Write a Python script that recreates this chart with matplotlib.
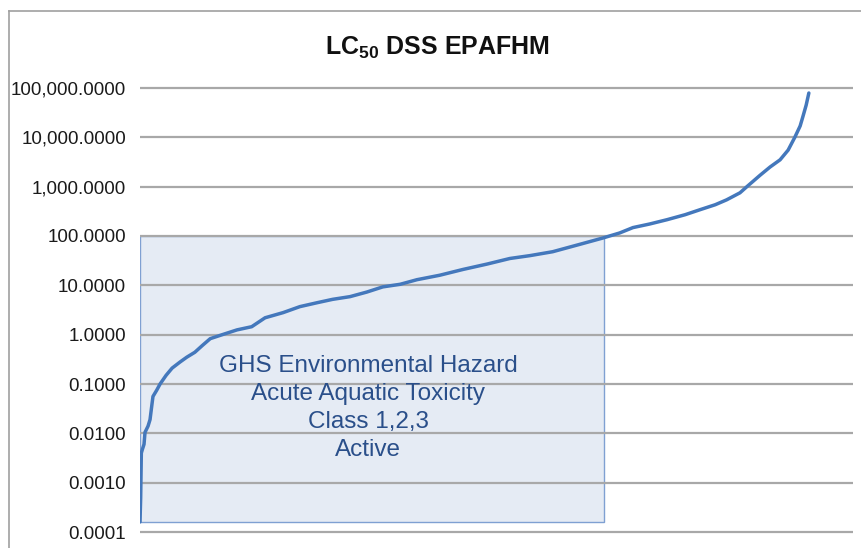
import matplotlib
matplotlib.use("Agg")
import matplotlib.pyplot as plt
from matplotlib.patches import Rectangle
from matplotlib.lines import Line2D
from matplotlib.ticker import FixedLocator, FuncFormatter, NullLocator

plt.rcParams['font.family'] = ['Liberation Sans', 'DejaVu Sans']
plt.rcParams['mathtext.fontset'] = 'custom'
plt.rcParams['mathtext.rm'] = 'Liberation Sans'
plt.rcParams['mathtext.bf'] = 'Liberation Sans:bold'

# Percent rank of each chemical (sorted) and its LC50 value
rank = [0.0, 0.1, 0.2, 0.35, 0.6, 0.75, 1.2, 1.5, 1.8, 1.94, 2.5, 3.0, 3.9, 4.8,
        6.0, 7.0, 8.2, 9.3, 10.5, 12.3, 14.5, 16.7, 18.7, 21.4, 23.9, 26.5,
        28.8, 31.4, 33.9, 36.3, 38.9, 41.4, 44.8, 48.3, 51.9, 55.3, 58.3,
        61.7, 65.8, 69.2, 71.7, 73.7, 76.2, 78.8, 81.5, 83.7, 86.0, 87.7,
        89.7, 90.7, 92.7, 94.2, 95.7, 96.9, 97.9, 98.7, 99.1, 99.6, 100.0]
lc50 = [0.00016, 0.0005, 0.004, 0.0047, 0.006, 0.0105, 0.014, 0.019, 0.04,
        0.056, 0.075, 0.1, 0.15, 0.21, 0.28, 0.35, 0.44, 0.6, 0.83, 1.0,
        1.25, 1.45, 2.2, 2.8, 3.7, 4.45, 5.2, 5.9, 7.3, 9.3, 10.5, 13, 16,
        21, 27, 35, 40, 48, 68, 91, 115, 148, 175, 214, 270, 340, 430, 540,
        750, 990, 1700, 2500, 3500, 5500, 10000, 17000, 26000, 45000, 79000]

# Hazard band: chemicals with LC50 up to 100 mg/L
band_rank_end = 69.4
band_low = 0.00016
band_high = 100.0

tick_values = [1e-4, 1e-3, 1e-2, 1e-1, 1, 10, 100, 1000, 10000, 100000]

W, H = 861, 548
fig = plt.figure(figsize=(W / 100, H / 100), dpi=100)

# axes box in pixels (small padding beyond the outer gridlines)
px_left, px_right = 140, 853
px_top, px_bottom = 85.5, 534.5
ax = fig.add_axes([px_left / W, 1 - px_bottom / H,
                   (px_right - px_left) / W, (px_bottom - px_top) / H])

ax.set_yscale('log')
ax.set_ylim(10 ** -4.05, 10 ** 5.05)
ax.set_xlim(0, 106.6)

ax.add_patch(Rectangle((0, band_low), band_rank_end, band_high - band_low,
                       facecolor='#e5ebf4', edgecolor='#7fa0d2', lw=1.0, zorder=1))

ax.plot(rank, lc50, color='#4478bc', lw=2.5, solid_joinstyle='round',
        solid_capstyle='round', zorder=3)

ax.yaxis.set_major_locator(FixedLocator(tick_values))
ax.yaxis.set_minor_locator(NullLocator())
ax.yaxis.set_major_formatter(FuncFormatter(lambda v, p: f"{v:,.4f}"))
ax.xaxis.set_major_locator(NullLocator())
ax.grid(axis='y', color='#a8a8a8', lw=1.6, zorder=2)
ax.set_axisbelow(False)
for gl in ax.get_ygridlines():
    gl.set_zorder(2)
ax.tick_params(axis='y', length=0, pad=10, labelsize=13.5, labelcolor='#1a1a1a')
for s in ax.spines.values():
    s.set_visible(False)

ax.text(0.32, 0.282,
        "GHS Environmental Hazard\nAcute Aquatic Toxicity\nClass 1,2,3\nActive",
        transform=ax.transAxes, ha='center', va='center', fontsize=17.5,
        color='#2a4f8a', linespacing=1.36, zorder=4)

fig.text(437 / W, 1 - 48 / H, r'$\mathbf{LC_{50}}$ DSS EPAFHM', ha='center',
         va='center', fontsize=18, fontweight='bold', color='#111111')

# outer chart-area border (top and left edges)
fig.add_artist(Line2D([9 / W, 1.0], [1 - 11 / H, 1 - 11 / H], color='#a0a0a0', lw=1.2))
fig.add_artist(Line2D([9 / W, 9 / W], [0.0, 1 - 11 / H], color='#a0a0a0', lw=1.2))

fig.savefig("out.png", dpi=100)
